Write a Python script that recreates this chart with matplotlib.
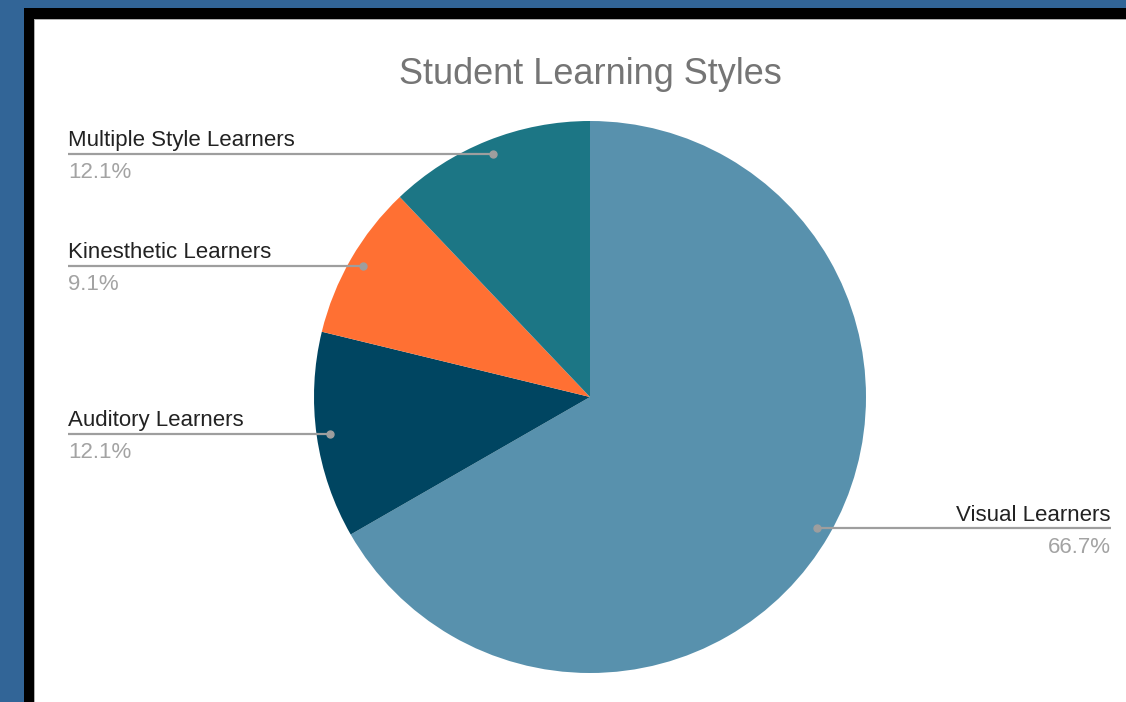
import numpy as np
import matplotlib.pyplot as plt
from matplotlib.patches import Rectangle

plt.rcParams['font.family'] = ['Liberation Sans', 'DejaVu Sans']

# 学习风格占比（顺时针，从12点方向开始）
categories = ['Visual Learners', 'Auditory Learners', 'Kinesthetic Learners', 'Multiple Style Learners']
shares = [66.7, 12.1, 9.1, 12.1]
colors = ['#5891ad', '#004561', '#ff7033', '#1c7685']
title = 'Student Learning Styles'

W, H = 1126, 702
fig = plt.figure(figsize=(W / 100, H / 100), dpi=100)
ax = fig.add_axes([0, 0, 1, 1])

# 外框：蓝色底 + 黑色边框 + 白色画布（像素坐标，y 向上）
ax.add_patch(Rectangle((0, 0), W, H, facecolor='#326597', edgecolor='none', zorder=0))
ax.add_patch(Rectangle((24, 0), W - 24, H - 8, facecolor='#000000', edgecolor='none', zorder=0))
ax.add_patch(Rectangle((34, 0), W - 34, H - 19, facecolor='#b0b0b0', edgecolor='none', zorder=0))
ax.add_patch(Rectangle((35, 0), W - 35, H - 20, facecolor='white', edgecolor='none', zorder=0))

cx, cy, r = 590, H - 397, 276
wedges, _ = ax.pie(shares, colors=colors, startangle=90, counterclock=False,
                   center=(cx, cy), radius=r, frame=True,
                   wedgeprops=dict(linewidth=0, antialiased=True))

ax.set_xlim(0, W)
ax.set_ylim(0, H)
ax.set_aspect('auto')
ax.axis('off')

# 引线标签：圆点在扇区中线 0.95r 处，水平线拉到两侧文字
line_color = '#9e9e9e'
for w, name, val in zip(wedges, categories, shares):
    mid = np.deg2rad((w.theta1 + w.theta2) / 2)
    px = cx + 0.95 * r * np.cos(mid)
    py = cy + 0.95 * r * np.sin(mid)
    if np.cos(mid) >= 0:
        tx, ha = 1111, 'right'
    else:
        tx, ha = 68, 'left'
    ax.plot([tx, px], [py, py], color=line_color, lw=1.6, zorder=3, solid_capstyle='butt')
    ax.plot(px, py, 'o', color=line_color, ms=5, zorder=4)
    ax.text(tx, py + 13, name, ha=ha, va='center', fontsize=16, color='#222222')
    ax.text(tx, py - 19, f'{val:.1f}%', ha=ha, va='center', fontsize=16, color='#a3a3a3')

ax.text(590, H - 74, title, ha='center', va='center', fontsize=26, color='#757575')

fig.savefig('out.png', dpi=100)
